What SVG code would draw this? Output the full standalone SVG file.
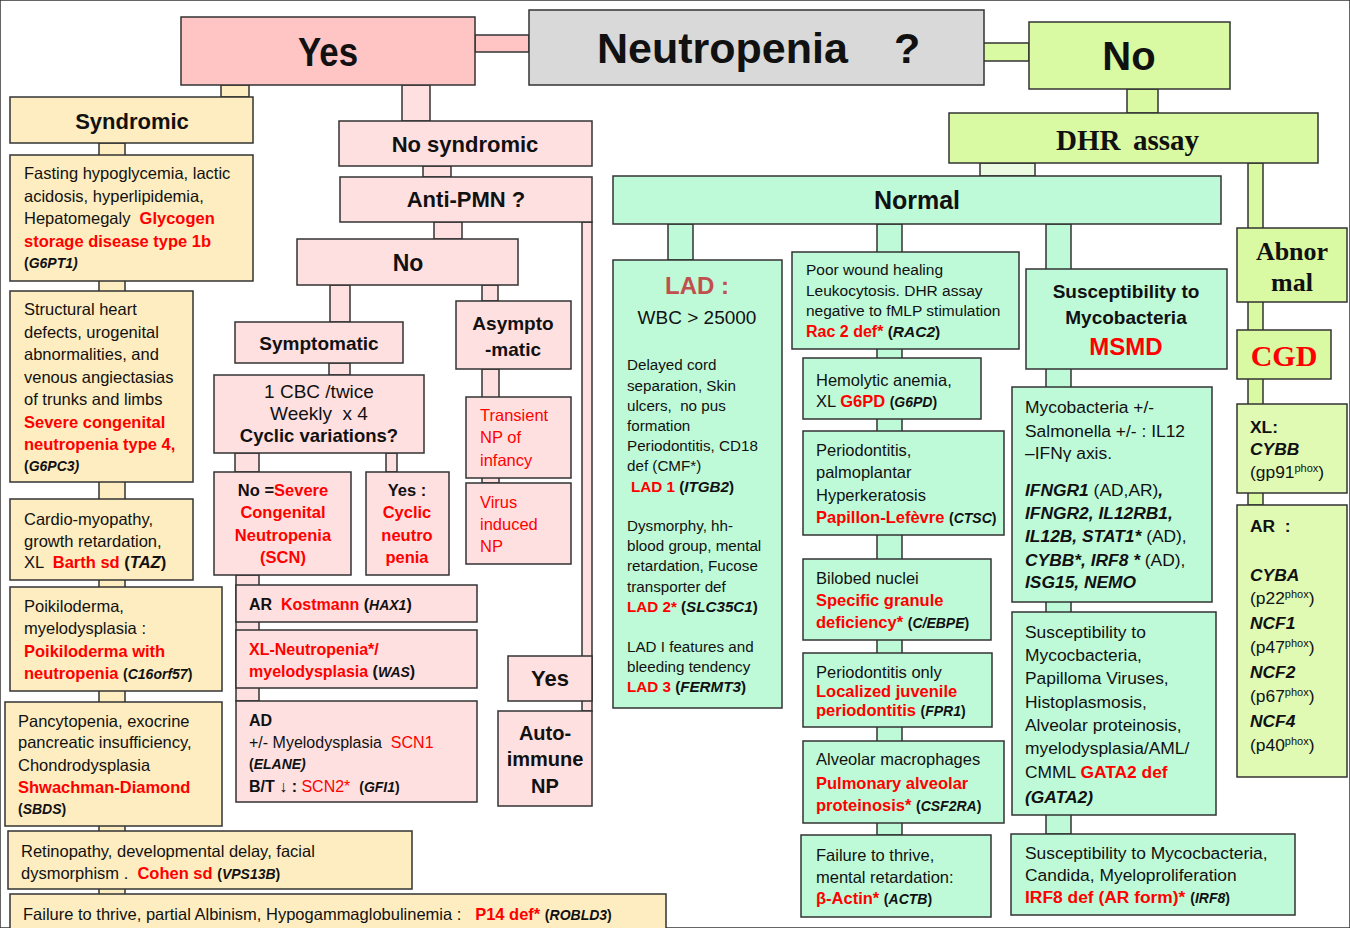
<svg xmlns="http://www.w3.org/2000/svg" width="1350" height="928" viewBox="0 0 1350 928">
<style>
rect{stroke:#333;stroke-width:1.5}
.gy{fill:#D9D9D9}.pk{fill:#FFC4C4}.pl{fill:#FFE0E0}.yl{fill:#FEEDC0}
.gr{fill:#D9F9A2}.gl{fill:#E0FAB4}.mt{fill:#BFFAD8}.pale{fill:#EAFBE2}
text{font-family:"Liberation Sans",Arial,sans-serif;fill:#111}
.s{font-size:16.5px}.m{font-size:15.2px}.mr{font-size:15.5px}.l{font-size:17.4px}
.b{font-weight:700}.rb{font-weight:700;fill:#f00}.r{fill:#f00}
.gi{font-weight:700;font-style:italic;font-size:14px}
.bi{font-weight:700;font-style:italic}
.c{text-anchor:middle}
.serif{font-family:"Liberation Serif","Times New Roman",serif;font-weight:700}
.sup{font-size:11px}
</style>
<rect x="0" y="0" width="1350" height="928" fill="#fff" stroke="none"/>

<!-- connectors: bars linking the boxes, drawn first so boxes sit on top -->
<g id="connectors">
<rect class="pk" x="475" y="35" width="54" height="17"/>
<rect class="yl" x="221" y="85" width="28" height="12"/>
<rect class="yl" x="99" y="143" width="26" height="790"/>
<rect class="pl" x="402" y="85" width="28" height="36"/>
<rect class="pl" x="423" y="166" width="28" height="11"/>
<rect class="pl" x="582" y="222" width="10" height="489"/>
<rect class="pl" x="434" y="222" width="28" height="17"/>
<rect class="pl" x="330" y="285" width="20" height="37"/>
<rect class="pl" x="482" y="285" width="16" height="16"/>
<rect class="pl" x="329" y="363" width="21" height="12"/>
<rect class="pl" x="482" y="369" width="17" height="114"/>
<rect class="pl" x="235" y="453" width="24" height="19"/>
<rect class="pl" x="386" y="453" width="11" height="19"/>
<rect class="pl" x="236" y="575" width="23" height="126"/>
<rect class="gr" x="983" y="43" width="46" height="18"/>
<rect class="gr" x="1127" y="89" width="31" height="24"/>
<rect class="pale" x="980" y="163" width="55" height="13"/>
<rect class="gr" x="1248" y="163" width="15" height="342"/>
<rect class="mt" x="668" y="224" width="25" height="36"/>
<rect class="mt" x="877" y="224" width="25" height="611"/>
<rect class="mt" x="1046" y="224" width="25" height="610"/>
</g>

<!-- root question -->
<g id="neutropenia">
<rect class="gy" x="529" y="10" width="455" height="75"/>
<text class="b" x="597" y="63" font-size="43">Neutropenia<tspan x="894">?</tspan></text>
</g>

<!-- Yes branch -->
<g id="yes">
<rect class="pk" x="181" y="17" width="294" height="68"/>
<text class="b c" x="328" y="66" font-size="40" textLength="60" lengthAdjust="spacingAndGlyphs">Yes</text>
</g>

<g id="syndromic">
<rect class="yl" x="10" y="97" width="243" height="46"/>
<text class="b c" x="132" y="129" font-size="22">Syndromic</text>
</g>
<g id="gsd1b">
<rect class="yl" x="10" y="155" width="243" height="126"/>
<text class="s" x="24" y="179">Fasting hypoglycemia, lactic</text>
<text class="s" x="24" y="202">acidosis, hyperlipidemia,</text>
<text class="s" x="24" y="224" xml:space="preserve">Hepatomegaly  <tspan class="rb">Glycogen</tspan></text>
<text class="s rb" x="24" y="247">storage disease type 1b</text>
<text class="gi" x="24" y="268"><tspan font-style="normal">(</tspan>G6PT1)</text>
</g>
<g id="scn4">
<rect class="yl" x="10" y="291" width="183" height="191"/>
<text class="s" x="24" y="315">Structural heart</text>
<text class="s" x="24" y="338">defects, urogenital</text>
<text class="s" x="24" y="360">abnormalities, and</text>
<text class="s" x="24" y="383">venous angiectasias</text>
<text class="s" x="24" y="405">of trunks and limbs</text>
<text class="s rb" x="24" y="428">Severe congenital</text>
<text class="s rb" x="24" y="450">neutropenia type 4,</text>
<text class="gi" x="24" y="471"><tspan font-style="normal">(</tspan>G6PC3)</text>
</g>
<g id="barth">
<rect class="yl" x="10" y="499" width="183" height="81"/>
<text class="s" x="24" y="525">Cardio-myopathy,</text>
<text class="s" x="24" y="547">growth retardation,</text>
<text class="s" x="24" y="568" xml:space="preserve">XL  <tspan class="rb">Barth sd</tspan> <tspan class="b">(<tspan class="bi">TAZ</tspan>)</tspan></text>
</g>
<g id="poikiloderma">
<rect class="yl" x="10" y="587" width="212" height="104"/>
<text class="s" x="24" y="612">Poikiloderma,</text>
<text class="s" x="24" y="634">myelodysplasia :</text>
<text class="s rb" x="24" y="657">Poikiloderma with</text>
<text class="s" x="24" y="679"><tspan class="rb">neutropenia</tspan> <tspan class="gi"><tspan font-style="normal">(</tspan>C16orf57<tspan font-style="normal">)</tspan></tspan></text>
</g>
<g id="shwachman">
<rect class="yl" x="5" y="702" width="217" height="124"/>
<text class="s" x="18" y="727">Pancytopenia, exocrine</text>
<text class="s" x="18" y="748">pancreatic insufficiency,</text>
<text class="s" x="18" y="771">Chondrodysplasia</text>
<text class="s rb" x="18" y="793">Shwachman-Diamond</text>
<text class="gi" x="18" y="814"><tspan font-style="normal">(</tspan>SBDS<tspan font-style="normal">)</tspan></text>
</g>
<g id="cohen">
<rect class="yl" x="8" y="831" width="404" height="58"/>
<text class="s" x="21" y="857">Retinopathy, developmental delay, facial</text>
<text class="s" x="21" y="879" xml:space="preserve">dysmorphism .  <tspan class="rb">Cohen sd</tspan> <tspan class="gi"><tspan font-style="normal">(</tspan>VPS13B<tspan font-style="normal">)</tspan></tspan></text>
</g>
<g id="p14">
<rect class="yl" x="10" y="894" width="656" height="50"/>
<text class="s" x="23" y="920" xml:space="preserve">Failure to thrive, partial Albinism, Hypogammaglobulinemia :   <tspan class="rb">P14 def*</tspan> <tspan class="gi"><tspan font-style="normal">(</tspan>ROBLD3<tspan font-style="normal">)</tspan></tspan></text>
</g>

<g id="no-syndromic">
<rect class="pl" x="339" y="121" width="253" height="45"/>
<text class="b c" x="465" y="152" font-size="22">No syndromic</text>
</g>
<g id="anti-pmn">
<rect class="pl" x="340" y="177" width="252" height="45"/>
<text class="b c" x="466" y="207" font-size="22">Anti-PMN ?</text>
</g>
<g id="anti-pmn-no">
<rect class="pl" x="297" y="239" width="221" height="46"/>
<text class="b c" x="408" y="271" font-size="23">No</text>
</g>
<g id="symptomatic">
<rect class="pl" x="235" y="322" width="168" height="41"/>
<text class="b c" x="319" y="350" font-size="19">Symptomatic</text>
</g>
<g id="asymptomatic">
<rect class="pl" x="456" y="301" width="115" height="68"/>
<text class="b c" x="513" y="330" font-size="19">Asympto</text>
<text class="b c" x="513" y="356" font-size="19">-matic</text>
</g>
<g id="cbc">
<rect class="pl" x="214" y="375" width="210" height="78"/>
<text class="c" x="319" y="398" font-size="19">1 CBC /twice</text>
<text class="c" x="319" y="420" font-size="19" xml:space="preserve">Weekly  x 4</text>
<text class="b c" x="319" y="442" font-size="18.5">Cyclic variations?</text>
</g>
<g id="scn">
<rect class="pl" x="214" y="472" width="137" height="103"/>
<text class="b c s" x="283" y="496">No =<tspan class="rb">Severe</tspan></text>
<text class="rb c s" x="283" y="518">Congenital</text>
<text class="rb c s" x="283" y="541">Neutropenia</text>
<text class="rb c s" x="283" y="563">(SCN)</text>
</g>
<g id="cyclic">
<rect class="pl" x="366" y="472" width="83" height="103"/>
<text class="b c s" x="407" y="496">Yes :</text>
<text class="rb c s" x="407" y="518">Cyclic</text>
<text class="rb c s" x="407" y="541">neutro</text>
<text class="rb c s" x="407" y="563">penia</text>
</g>
<g id="transient">
<rect class="pl" x="466" y="397" width="105" height="81"/>
<text class="r s" x="480" y="421">Transient</text>
<text class="r s" x="480" y="443">NP of</text>
<text class="r s" x="480" y="466">infancy</text>
</g>
<g id="virus">
<rect class="pl" x="466" y="483" width="105" height="81"/>
<text class="r s" x="480" y="508">Virus</text>
<text class="r s" x="480" y="530">induced</text>
<text class="r s" x="480" y="552">NP</text>
</g>
<g id="kostmann">
<rect class="pl" x="236" y="585" width="241" height="37"/>
<text class="b" x="249" y="610" font-size="16" xml:space="preserve">AR  <tspan class="r">Kostmann</tspan> (<tspan class="bi" font-size="14">HAX1</tspan>)</text>
</g>
<g id="was">
<rect class="pl" x="236" y="630" width="241" height="58"/>
<text class="rb" x="249" y="655" font-size="16">XL-Neutropenia*/</text>
<text class="b" x="249" y="677" font-size="16"><tspan class="r">myelodysplasia</tspan> (<tspan class="bi" font-size="14">WAS</tspan>)</text>
</g>
<g id="elane">
<rect class="pl" x="236" y="701" width="241" height="101"/>
<text class="b" x="249" y="726" font-size="16">AD</text>
<text x="249" y="748" font-size="16" xml:space="preserve">+/- Myelodysplasia  <tspan class="r">SCN1</tspan></text>
<text class="gi" x="249" y="769"><tspan font-style="normal">(</tspan>ELANE)</text>
<text class="b" x="249" y="792" font-size="16" xml:space="preserve">B/T ↓ : <tspan class="r" font-weight="400">SCN2*</tspan>  <tspan class="gi"><tspan font-style="normal">(</tspan>GFI1<tspan font-style="normal">)</tspan></tspan></text>
</g>
<g id="anti-pmn-yes">
<rect class="pl" x="508" y="656" width="84" height="45"/>
<text class="b c" x="550" y="686" font-size="22">Yes</text>
</g>
<g id="autoimmune">
<rect class="pl" x="498" y="711" width="94" height="95"/>
<text class="b c" x="545" y="740" font-size="20">Auto-</text>
<text class="b c" x="545" y="766" font-size="20">immune</text>
<text class="b c" x="545" y="793" font-size="20">NP</text>
</g>

<!-- No branch -->
<g id="no">
<rect class="gr" x="1029" y="22" width="201" height="67"/>
<text class="b c" x="1129" y="70" font-size="40">No</text>
</g>
<g id="dhr">
<rect class="gr" x="949" y="113" width="369" height="50"/>
<text class="serif" x="1056" y="150" font-size="29">DHR<tspan x="1133">assay</tspan></text>
</g>
<g id="abnormal">
<rect class="gr" x="1237" y="228" width="110" height="74"/>
<text class="serif c" x="1292" y="260" font-size="26">Abnor</text>
<text class="serif c" x="1292" y="291" font-size="26">mal</text>
</g>
<g id="cgd">
<rect class="gr" x="1237" y="330" width="94" height="49"/>
<text class="serif c" x="1284" y="366" font-size="30" style="fill:#f00">CGD</text>
</g>
<g id="cgd-xl">
<rect class="gl" x="1237" y="404" width="110" height="89"/>
<text class="b l" x="1250" y="433">XL:</text>
<text class="bi l" x="1250" y="455">CYBB</text>
<text class="l" x="1250" y="478">(gp91<tspan class="sup" dy="-6">phox</tspan><tspan dy="6">)</tspan></text>
</g>
<g id="cgd-ar">
<rect class="gl" x="1237" y="505" width="110" height="272"/>
<text class="b l" x="1250" y="532" xml:space="preserve">AR  :</text>
<text class="bi l" x="1250" y="581">CYBA</text>
<text class="l" x="1250" y="604">(p22<tspan class="sup" dy="-6">phox</tspan><tspan dy="6">)</tspan></text>
<text class="bi l" x="1250" y="629">NCF1</text>
<text class="l" x="1250" y="653">(p47<tspan class="sup" dy="-6">phox</tspan><tspan dy="6">)</tspan></text>
<text class="bi l" x="1250" y="678">NCF2</text>
<text class="l" x="1250" y="702">(p67<tspan class="sup" dy="-6">phox</tspan><tspan dy="6">)</tspan></text>
<text class="bi l" x="1250" y="727">NCF4</text>
<text class="l" x="1250" y="751">(p40<tspan class="sup" dy="-6">phox</tspan><tspan dy="6">)</tspan></text>
</g>

<g id="normal">
<rect class="mt" x="613" y="176" width="608" height="48"/>
<text class="b c" x="917" y="209" font-size="25">Normal</text>
</g>
<g id="lad">
<rect class="mt" x="613" y="260" width="169" height="448"/>
<text class="b c" x="697" y="294" font-size="24" style="fill:#C0504D">LAD :</text>
<text class="c" x="697" y="324" font-size="19">WBC &gt; 25000</text>
<text class="m" x="627" y="370">Delayed cord</text>
<text class="m" x="627" y="391">separation, Skin</text>
<text class="m" x="627" y="411" xml:space="preserve">ulcers,  no pus</text>
<text class="m" x="627" y="431">formation</text>
<text class="m" x="627" y="451">Periodontitis, CD18</text>
<text class="m" x="627" y="471">def (CMF*)</text>
<text class="m" x="631" y="492"><tspan class="rb">LAD 1</tspan> <tspan class="b">(<tspan class="bi">ITGB2</tspan>)</tspan></text>
<text class="m" x="627" y="531">Dysmorphy, hh-</text>
<text class="m" x="627" y="551">blood group, mental</text>
<text class="m" x="627" y="571">retardation, Fucose</text>
<text class="m" x="627" y="592">transporter def</text>
<text class="m" x="627" y="612"><tspan class="rb">LAD 2*</tspan> <tspan class="b">(<tspan class="bi">SLC35C1</tspan>)</tspan></text>
<text class="m" x="627" y="652">LAD I features and</text>
<text class="m" x="627" y="672">bleeding tendency</text>
<text class="m" x="627" y="692"><tspan class="rb">LAD 3</tspan> <tspan class="b">(<tspan class="bi">FERMT3</tspan>)</tspan></text>
</g>
<g id="rac2">
<rect class="mt" x="792" y="252" width="227" height="97"/>
<text class="mr" x="806" y="275">Poor wound healing</text>
<text class="mr" x="806" y="296">Leukocytosis. DHR assay</text>
<text class="mr" x="806" y="316">negative to fMLP stimulation</text>
<text class="mr" x="806" y="337"><tspan class="rb" font-size="16">Rac 2 def*</tspan> <tspan class="b">(<tspan class="bi">RAC2</tspan>)</tspan></text>
</g>
<g id="g6pd">
<rect class="mt" x="803" y="358" width="178" height="61"/>
<text class="s" x="816" y="386">Hemolytic anemia,</text>
<text class="s" x="816" y="407">XL <tspan class="rb">G6PD</tspan> <tspan class="gi"><tspan font-style="normal">(</tspan>G6PD<tspan font-style="normal">)</tspan></tspan></text>
</g>
<g id="papillon">
<rect class="mt" x="803" y="431" width="201" height="104"/>
<text class="s" x="816" y="456">Periodontitis,</text>
<text class="s" x="816" y="478">palmoplantar</text>
<text class="s" x="816" y="501">Hyperkeratosis</text>
<text class="s" x="816" y="523"><tspan class="rb">Papillon-Lefèvre</tspan> <tspan class="gi"><tspan font-style="normal">(</tspan>CTSC<tspan font-style="normal">)</tspan></tspan></text>
</g>
<g id="sgd">
<rect class="mt" x="803" y="559" width="188" height="81"/>
<text class="s" x="816" y="584">Bilobed nuclei</text>
<text class="s rb" x="816" y="606">Specific granule</text>
<text class="s" x="816" y="628"><tspan class="rb">deficiency*</tspan> <tspan class="gi"><tspan font-style="normal">(</tspan>C/EBPE<tspan font-style="normal">)</tspan></tspan></text>
</g>
<g id="ljp">
<rect class="mt" x="803" y="653" width="189" height="74"/>
<text class="s" x="816" y="678">Periodontitis only</text>
<text class="s rb" x="816" y="697">Localized juvenile</text>
<text class="s" x="816" y="716"><tspan class="rb">periodontitis</tspan> <tspan class="gi"><tspan font-style="normal">(</tspan>FPR1<tspan font-style="normal">)</tspan></tspan></text>
</g>
<g id="pap">
<rect class="mt" x="803" y="741" width="201" height="82"/>
<text class="s" x="816" y="765">Alveolar macrophages</text>
<text class="s rb" x="816" y="789">Pulmonary alveolar</text>
<text class="s" x="816" y="811"><tspan class="rb">proteinosis*</tspan> <tspan class="gi"><tspan font-style="normal">(</tspan>CSF2RA<tspan font-style="normal">)</tspan></tspan></text>
</g>
<g id="actin">
<rect class="mt" x="801" y="835" width="190" height="82"/>
<text class="s" x="816" y="861">Failure to thrive,</text>
<text class="s" x="816" y="883">mental retardation:</text>
<text class="s" x="816" y="904"><tspan class="rb">β-Actin*</tspan> <tspan class="gi"><tspan font-style="normal">(</tspan>ACTB<tspan font-style="normal">)</tspan></tspan></text>
</g>
<g id="msmd">
<rect class="mt" x="1026" y="269" width="201" height="100"/>
<text class="b c" x="1126" y="298" font-size="19">Susceptibility to</text>
<text class="b c" x="1126" y="324" font-size="19">Mycobacteria</text>
<text class="rb c" x="1126" y="355" font-size="24">MSMD</text>
</g>
<g id="il12-ifng">
<rect class="mt" x="1012" y="387" width="200" height="215"/>
<text class="l" x="1025" y="413">Mycobacteria +/-</text>
<text class="l" x="1025" y="437">Salmonella +/- : IL12</text>
<text class="l" x="1025" y="459">–IFNγ axis.</text>
<text class="l" x="1025" y="496"><tspan class="bi">IFNGR1</tspan> (AD,AR)<tspan class="bi">,</tspan></text>
<text class="l bi" x="1025" y="519">IFNGR2, IL12RB1,</text>
<text class="l" x="1025" y="542"><tspan class="bi">IL12B, STAT1*</tspan> (AD),</text>
<text class="l" x="1025" y="566"><tspan class="bi">CYBB*, IRF8 *</tspan> (AD),</text>
<text class="l bi" x="1025" y="588">ISG15, NEMO</text>
</g>
<g id="gata2">
<rect class="mt" x="1012" y="612" width="204" height="203"/>
<text class="l" x="1025" y="638">Susceptibility to</text>
<text class="l" x="1025" y="661">Mycocbacteria,</text>
<text class="l" x="1025" y="684">Papilloma Viruses,</text>
<text class="l" x="1025" y="708">Histoplasmosis,</text>
<text class="l" x="1025" y="731">Alveolar proteinosis,</text>
<text class="l" x="1025" y="754">myelodysplasia/AML/</text>
<text class="l" x="1025" y="778">CMML <tspan class="rb">GATA2 def</tspan></text>
<text class="l bi" x="1025" y="803">(GATA2)</text>
</g>
<g id="irf8">
<rect class="mt" x="1011" y="834" width="284" height="81"/>
<text class="l" x="1025" y="859">Susceptibility to Mycocbacteria,</text>
<text class="l" x="1025" y="881">Candida, Myeloproliferation</text>
<text class="l" x="1025" y="903"><tspan class="rb">IRF8 def (AR form)*</tspan> <tspan class="gi"><tspan font-style="normal">(</tspan>IRF8<tspan font-style="normal">)</tspan></tspan></text>
</g>
</svg>
